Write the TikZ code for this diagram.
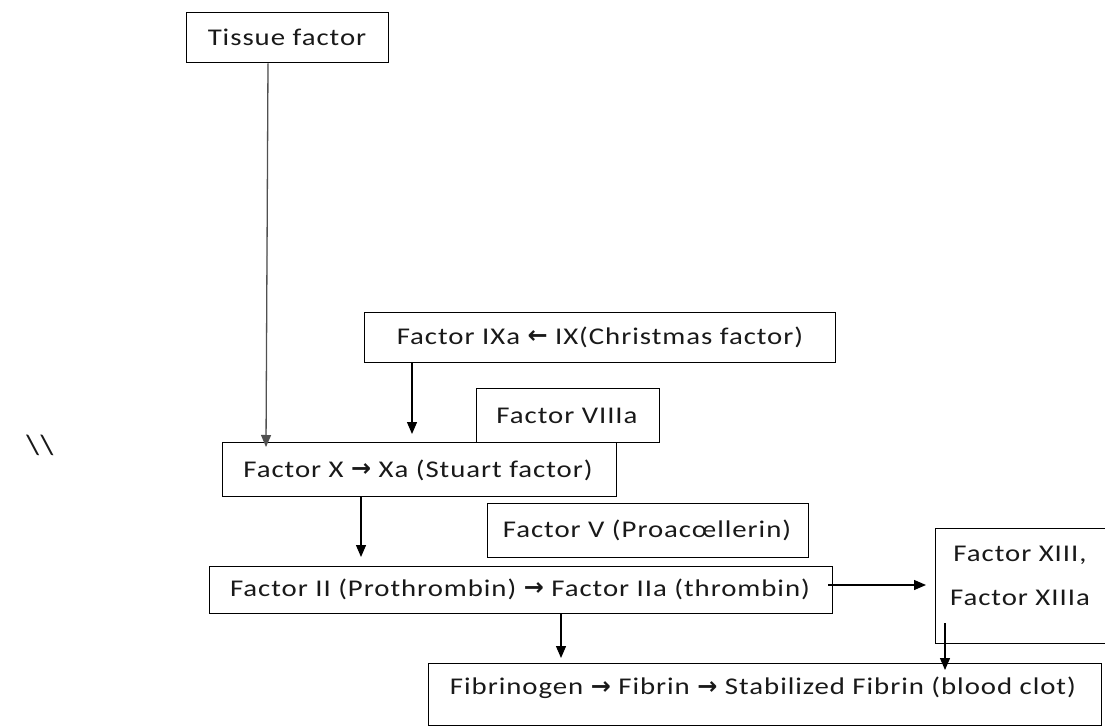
\documentclass[tikz,border=0pt]{standalone}
\usepackage{fontspec}
\setmainfont{Carlito}[FakeStretch=1.2, LetterSpace=4]
\newfontfamily\arrowfont{DejaVu Sans}
\usetikzlibrary{arrows.meta,calc}
\definecolor{tline}{RGB}{80,80,80}
\newcommand{\ra}{{\arrowfont\bfseries\fontsize{24}{26}\selectfont\raisebox{0.5pt}{→}}}
\newcommand{\la}{{\arrowfont\bfseries\fontsize{24}{26}\selectfont\raisebox{0.5pt}{←}}}

\begin{document}
\begin{tikzpicture}[x=1pt,y=-1pt,
  box/.style={draw=black, line width=1.4pt, inner sep=0pt, anchor=north west},
  lbl/.style={font=\fontsize{24}{28}\selectfont, inner sep=0pt, text=black!90},
  flow/.style={line width=1.3pt, -{Triangle[width=10pt,length=12pt]}}]

\path[use as bounding box, clip] (0,0) rectangle (1105,727);

% boxes
\node[box, minimum width=202pt, minimum height=50pt] (tissue) at (186,12) {};
\node[box, minimum width=471pt, minimum height=50pt] (ix)     at (364,312) {};
\node[box, minimum width=183pt, minimum height=54pt] (viii)   at (476,388) {};
\node[box, minimum width=394pt, minimum height=54pt] (fx)     at (222,442) {};
\node[box, minimum width=321pt, minimum height=54pt] (fv)     at (487,503) {};
\node[box, minimum width=623pt, minimum height=47pt] (f2)     at (209,566) {};
\node[box, minimum width=220pt, minimum height=115pt] (f13)   at (935,528) {};
\node[box, minimum width=673pt, minimum height=62pt] (fib)    at (428,663) {};

% labels
\node[lbl] (tissueT) at (287,37)  {Tissue factor};
\node[lbl] (ixT)     at (600,337) {Factor IXa \la\ IX(Christmas factor)};
\node[lbl] (viiiT)   at (567,416) {Factor VIIIa};
\node[lbl] (fxT)     at (418,470) {Factor X \ra\ Xa (Stuart factor)};
\node[lbl] (fvT)     at (647,530) {Factor V (Proacœllerin)};
\node[lbl] (f2T)     at (520,589) {Factor II (Prothrombin) \ra\ Factor IIa (thrombin)};
\node[lbl] (f13a)    at (1020,555) {Factor XIII,};
\node[lbl] (f13b)    at (1020,598) {Factor XIIIa};
\node[lbl] (fibT)    at (763,688) {Fibrinogen \ra\ Fibrin \ra\ Stabilized Fibrin (blood clot)};
\node[lbl, font=\fontsize{28}{30}\selectfont] (mark) at (40,445) {\textbackslash\textbackslash};

% connectors
\draw[flow, draw=tline, fill=black] ($(tissue.south west)+(82,0)$) -- ($(fx.north west)+(44,5)$);
\draw[flow] ($(ix.south west)+(48,0)$) -- ($(fx.north west)+(190,-8)$);
\draw[flow] ($(fx.south west)+(139,0)$) -- ($(f2.north west)+(152,-9)$);
\draw[flow] ($(f2.north east)+(-5,19)$) -- ($(f13.north west)+(-9,57)$);
\draw[flow] ($(f2.south west)+(352,0)$) -- ($(fib.north west)+(133,-5)$);
\draw[flow] ($(f13.south west)+(10,-21)$) -- ($(fib.north west)+(517,7)$);
\end{tikzpicture}
\end{document}
